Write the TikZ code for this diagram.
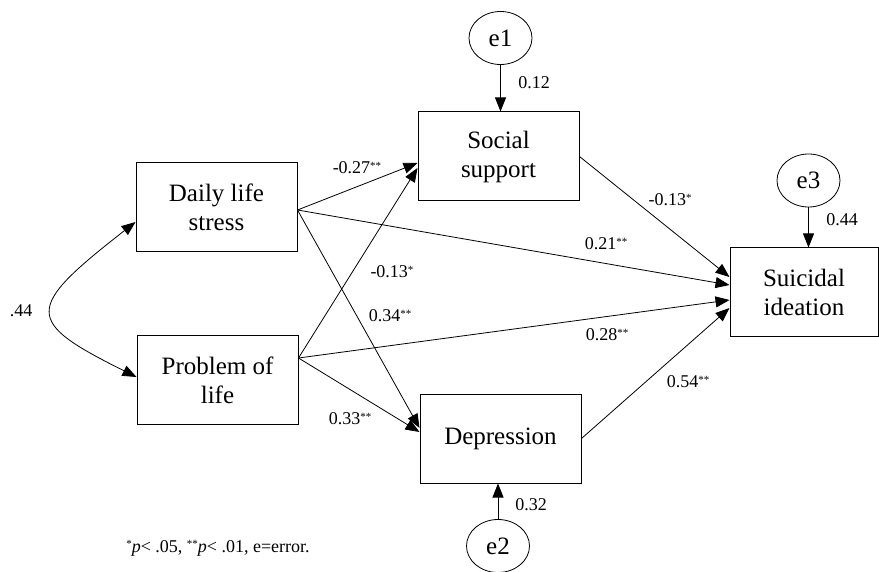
\documentclass[tikz,border=0pt]{standalone}
\usepackage{fontspec}
\setmainfont{Liberation Serif}
\usetikzlibrary{arrows.meta,shapes.geometric}
\newcommand\sigstar[1]{\raisebox{4.5pt}{\fontsize{11}{11}\selectfont #1}}
\begin{document}
\begin{tikzpicture}[x=1pt,y=-1pt,
  box/.style={draw,line width=1pt,minimum width=161pt,minimum height=89pt,inner sep=0pt,align=center,font=\fontsize{25}{29}\selectfont},
  err/.style={draw,ellipse,line width=0.8pt,minimum width=63pt,minimum height=53pt,inner sep=0pt,font=\fontsize{25}{25}\selectfont},
  lab/.style={font=\fontsize{18}{20}\selectfont,inner sep=0pt},
  conn/.style={line width=0.8pt,-{Triangle[length=14pt,width=11pt]}},
  dconn/.style={line width=0.8pt,{Triangle[length=14pt,width=11pt]}-{Triangle[length=14pt,width=11pt]}},
]
\useasboundingbox (0,0) rectangle (879,572);

% boxes
\node[box] (ds) at (216.5,207) {Daily life\\stress};
\node[box] (pl) at (217.5,380) {Problem of\\life};
\node[box] (ss) at (498.5,156.5) {Social\\support};
\node[box] (dep) at (500.5,438.5) {Depression};
\node[box,minimum width=148pt] (si) at (804,292.5) {Suicidal\\ideation};

% errors
\node[err] (e1) at (500.5,38) {e1};
\node[err] (e3) at (808.5,180.5) {e3};
\node[err] (e2) at (498,546) {e2};

% anchor points
\coordinate (dso) at ([yshift=-3pt]ds.east);
\coordinate (plo) at ([yshift=22pt]pl.east);
\coordinate (ssa) at ([yshift=-6.5pt]ss.west);
\coordinate (ssb) at ([yshift=-11.5pt]ss.west);
\coordinate (depa) at ([yshift=10.5pt]dep.west);
\coordinate (depb) at ([yshift=6.5pt]dep.west);
\coordinate (sia) at ([yshift=15.5pt]si.west);
\coordinate (sib) at ([yshift=7.5pt]si.west);
\coordinate (sic) at ([yshift=-7.5pt]si.west);
\coordinate (sid) at ([yshift=-15.5pt]si.west);
\coordinate (dsc) at ([yshift=-15pt]ds.west);
\coordinate (plc) at ([yshift=3pt]pl.west);

% paths
\draw[conn] (dso) -- (ssa);
\draw[conn] (dso) -- (sib);
\draw[conn] (dso) -- (depa);
\draw[conn] (plo) -- (ssb);
\draw[conn] (plo) -- (sic);
\draw[conn] (plo) -- (depb);
\draw[conn] (ss.east) -- (sia);
\draw[conn] (dep.east) -- (sid);
\draw[conn] (e1.south) -- (e1.south |- ss.north);
\draw[conn] (e3.south) -- (e3.south |- si.north);
\draw[conn] (e2.north) -- (e2.north |- dep.south);
\draw[dconn] (dsc) .. controls (24,309) and (24,321) .. (plc);

% labels
\node[lab] (l1) at (534,83) {0.12};
\node[lab] (l2) at (842,220) {0.44};
\node[lab] (l3) at (531,505) {0.32};
\node[lab] (l4) at (357,168) {-0.27\sigstar{**}};
\node[lab] (l5) at (606,244) {0.21\sigstar{**}};
\node[lab] (l6) at (392,272) {-0.13\sigstar{*}};
\node[lab] (l7) at (390,316) {0.34\sigstar{**}};
\node[lab] (l8) at (350,419) {0.33\sigstar{**}};
\node[lab] (l9) at (670,200) {-0.13\sigstar{*}};
\node[lab] (l10) at (607,335) {0.28\sigstar{**}};
\node[lab] (l11) at (688,382) {0.54\sigstar{**}};
\node[lab] (l12) at (21,311) {.44};
\node[lab] (note) at (218,548) {\sigstar{*}\textit{p}< .05, \sigstar{**}\textit{p}< .01, e=error.};
\end{tikzpicture}
\end{document}
